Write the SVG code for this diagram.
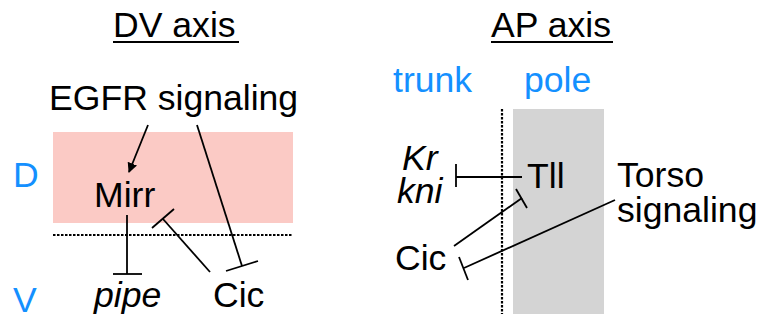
<svg xmlns="http://www.w3.org/2000/svg" width="758" height="320" viewBox="0 0 758 320">
<style>
text{font-family:"Liberation Sans",Arial,sans-serif;font-size:35.6px;fill:#000}
.blue{fill:#1490FF}
.it{font-style:italic}
.ln{stroke:#000;stroke-width:1.8;fill:none}
.dot{stroke:#000;stroke-width:2.2;stroke-dasharray:2.5 1.5;fill:none}
</style>
<defs>
<marker id="arr" viewBox="0 0 10 10" refX="9" refY="5" markerWidth="10" markerHeight="10" markerUnits="userSpaceOnUse" orient="auto">
<path d="M0,0 L10,5 L0,10 z" fill="#000"/>
</marker>
</defs>
<rect width="758" height="320" fill="#fff"/>
<g id="dv-panel">
<rect x="53" y="132" width="240" height="91" fill="#FBCAC5"/>
<line class="dot" x1="53" y1="235" x2="293" y2="235"/>
</g>
<g id="ap-panel">
<rect x="513" y="109" width="91" height="205" fill="#D4D4D4"/>
<line class="dot" x1="502" y1="109" x2="502" y2="314"/>
</g>
<g id="titles">
<text x="113" y="37">DV axis</text>
<line x1="113" y1="42" x2="239" y2="42" stroke="#000" stroke-width="2"/>
<text x="491" y="37">AP axis</text>
<line x1="491" y1="42" x2="613" y2="42" stroke="#000" stroke-width="2"/>
<text class="blue" x="13" y="187">D</text>
<text class="blue" x="13" y="312">V</text>
<text class="blue" x="393" y="92">trunk</text>
<text class="blue" x="524" y="92">pole</text>
</g>
<g id="egfr"><text x="49" y="110">EGFR signaling</text></g>
<g id="mirr"><text x="94" y="207">Mirr</text></g>
<g id="pipe"><text class="it" x="94" y="307">pipe</text></g>
<g id="cic-dv"><text x="213" y="307">Cic</text></g>
<g id="krkni"><text class="it" x="402" y="170">Kr<tspan x="397" dy="33">kni</tspan></text></g>
<g id="tll"><text x="527" y="188">Tll</text></g>
<g id="cic-ap"><text x="395" y="270">Cic</text></g>
<g id="torso"><text x="617" y="187">Torso<tspan x="617" dy="35">signaling</tspan></text></g>
<g id="connectors">
<line class="ln" x1="148" y1="125" x2="129" y2="172" marker-end="url(#arr)"/>
<line class="ln" x1="197" y1="125" x2="242" y2="266"/>
<line class="ln" x1="226" y1="271" x2="258" y2="261"/>
<line class="ln" x1="127" y1="215" x2="127" y2="274"/>
<line class="ln" x1="113" y1="274" x2="142" y2="274"/>
<line class="ln" x1="210" y1="272" x2="163" y2="219"/>
<line class="ln" x1="152" y1="228" x2="174" y2="209"/>
<line class="ln" x1="522" y1="177" x2="456" y2="177"/>
<line class="ln" x1="456" y1="164" x2="456" y2="187"/>
<line class="ln" x1="454" y1="246" x2="522" y2="198"/>
<line class="ln" x1="516" y1="189" x2="527" y2="208"/>
<line class="ln" x1="615" y1="200" x2="464" y2="268"/>
<line class="ln" x1="459" y1="257" x2="468" y2="280"/>
</g>
</svg>
